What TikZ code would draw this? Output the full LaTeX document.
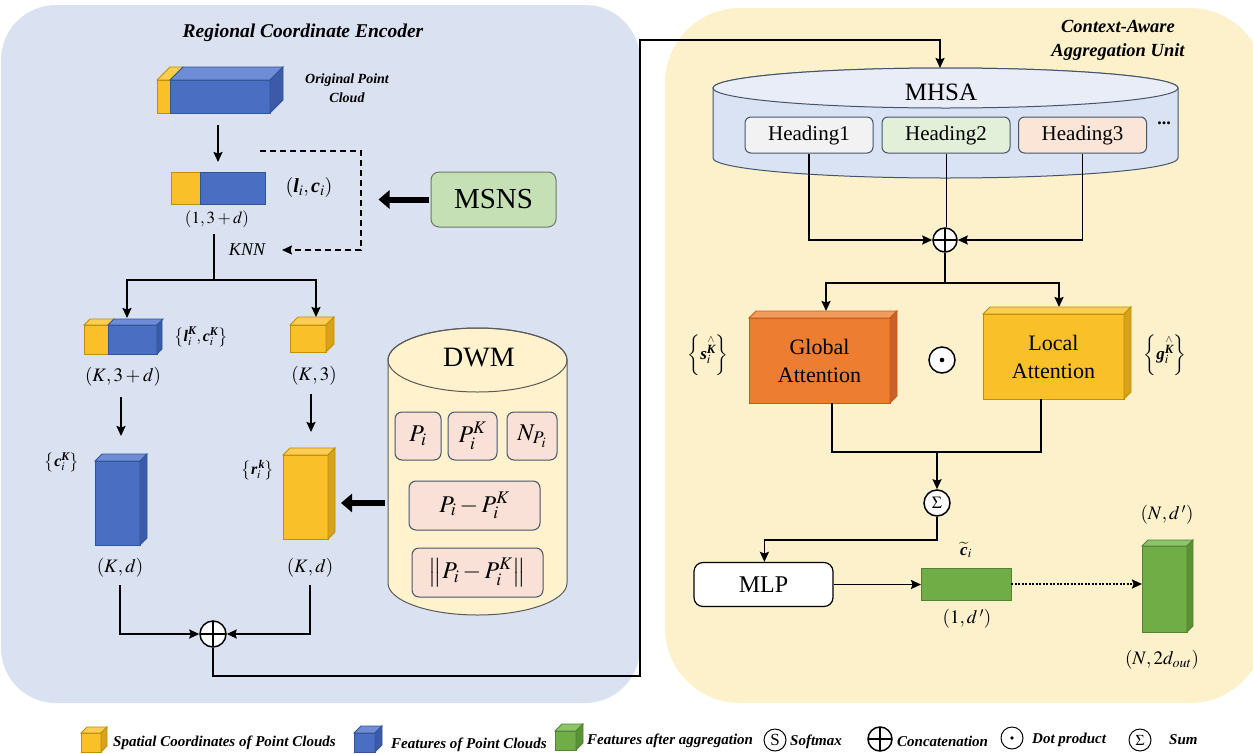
\documentclass[tikz,border=0pt]{standalone}
\usepackage{amsmath}
\usepackage{mathptmx}
\usepackage{fontspec}
\setmainfont{Liberation Serif}
\usetikzlibrary{arrows.meta,calc}

\definecolor{panelL}{HTML}{DAE1F0}
\definecolor{panelR}{HTML}{FDF1CC}
\definecolor{ylw}{HTML}{FAC02A}
\definecolor{ylwTop}{HTML}{FCCD55}
\definecolor{ylwSide}{HTML}{D9A21B}
\definecolor{ylwLine}{HTML}{BF9000}
\definecolor{blu}{HTML}{4A6EC2}
\definecolor{bluTop}{HTML}{6F8DD6}
\definecolor{bluSide}{HTML}{3C5AA8}
\definecolor{bluLine}{HTML}{2F5597}
\definecolor{grn}{HTML}{70AD47}
\definecolor{grnTop}{HTML}{8DC46A}
\definecolor{grnSide}{HTML}{5A9236}
\definecolor{grnLine}{HTML}{548235}
\definecolor{org}{HTML}{ED7D31}
\definecolor{orgTop}{HTML}{F29B5F}
\definecolor{orgSide}{HTML}{C8622A}
\definecolor{orgLine}{HTML}{C55A11}
\definecolor{msnsF}{HTML}{C5E0B4}
\definecolor{msnsL}{HTML}{6C7B66}
\definecolor{dwmF}{HTML}{FFF2CC}
\definecolor{dwmL}{HTML}{595959}
\definecolor{pinkF}{HTML}{F9E1D7}
\definecolor{boxL}{HTML}{44546A}
\definecolor{mhsaF}{HTML}{DAE3F3}
\definecolor{mhsaT}{HTML}{E8EDF7}
\definecolor{hOneF}{HTML}{F2F2F2}
\definecolor{hTwoF}{HTML}{E2F0D9}
\definecolor{hThreeF}{HTML}{FBE5D6}

\newcommand\fs[2]{\fontsize{#1}{#2}\selectfont}
\newcommand\mathbit[1]{\text{\bfseries\itshape #1}}
\newcommand\hatK{\overset{\scriptscriptstyle\wedge}{\mathbit{K}}}
% top and right faces of a block whose front face is the node #1
\newcommand\topface[4]{%
  \filldraw[fill=#3,draw=#4,line width=0.8pt] (#1.north west) -- ++(#2,-#2)
    -- ($(#1.north east)+(#2,-#2)$) -- (#1.north east) -- cycle;}
\newcommand\sideface[4]{%
  \filldraw[fill=#3,draw=#4,line width=0.8pt] (#1.north east) -- ++(#2,-#2)
    -- ($(#1.south east)+(#2,-#2)$) -- (#1.south east) -- cycle;}

\tikzset{
  face/.style={draw, line width=0.8pt, inner sep=0pt, outer sep=0pt, anchor=north west},
  yface/.style={face, fill=ylw, draw=ylwLine},
  bface/.style={face, fill=blu, draw=bluLine},
  gface/.style={face, fill=grn, draw=grnLine},
  oface/.style={face, fill=org, draw=orgLine},
  arr/.style={line width=1.8pt, -{Stealth[length=10pt,width=9pt,inset=1.5pt]}},
  ln/.style={line width=1.8pt},
  fatarr/.style={line width=6pt, -{Triangle[length=11pt,width=18pt]}},
  opc/.style={circle, draw, line width=1.5pt, fill=white, inner sep=0pt},
  plusop/.style={opc, path picture={\draw[line width=1.5pt]
      (path picture bounding box.north) -- (path picture bounding box.south)
      (path picture bounding box.west) -- (path picture bounding box.east);}},
  dbox/.style={draw=boxL, fill=pinkF, line width=1pt, rounded corners=7pt,
      inner sep=0pt, font=\fs{24}{28}},
  hbox/.style={draw=boxL, line width=1pt, rounded corners=6pt, minimum width=128pt,
      minimum height=36pt, inner sep=0pt, font=\fs{21}{24}},
  lbl/.style={inner sep=0pt},
  dimlbl/.style={inner sep=0pt, font=\fs{19}{22}},
  legtxt/.style={anchor=west, inner sep=0pt, font=\bfseries\itshape\fs{15}{18}},
}

\begin{document}
\begin{tikzpicture}[x=1pt,y=-1pt]
\useasboundingbox (0,0) rectangle (1253,753);
\clip (0,0) rectangle (1253,753);
\fill[white] (0,0) rectangle (1253,753);

% panels
\fill[panelL, rounded corners=55pt] (1,5) rectangle (640,703);
\fill[panelR, rounded corners=75pt] (665,8) rectangle (1265,703);

% ---------------- Regional Coordinate Encoder ----------------
\node[font=\bfseries\itshape\fs{19.5}{22}] (titleL) at (303,33) {Regional Coordinate Encoder};

% original point cloud
\node[yface, minimum width=13pt, minimum height=33pt] (ocY) at (157,80) {};
\node[bface, minimum width=100pt, minimum height=33pt] (ocB) at (170,80) {};
\topface{ocY}{13}{ylwTop}{ylwLine}
\topface{ocB}{13}{bluTop}{bluLine}
\sideface{ocB}{13}{bluSide}{bluLine}
\node[font=\bfseries\itshape\fs{14}{19}, align=center] (ocL) at (347,88) {Original Point\\Cloud};

% single point (1,3+d)
\node[yface, minimum width=29pt, minimum height=32pt] (flY) at (171,172) {};
\node[bface, minimum width=65pt, minimum height=32pt] (flB) at (200,172) {};
\coordinate (flTop) at ($(flY.north west)!0.5!(flB.north east)$);
\draw[arr, shorten <=12pt, shorten >=10pt] (flTop |- ocB.south) -- (flTop);
\node[lbl, font=\fs{20}{23}] (liciL) at (309,187) {$\left(\mathbit{l}_i,\mathbit{c}_i\right)$};
\node[lbl, font=\fs{17}{20}] (dimA) at (217,219) {$\left(1,3+d\right)$};

% KNN loop
\coordinate (knnA) at (260,151);
\coordinate (knnB) at (282,250);
\draw[line width=1.6pt, dash pattern=on 6pt off 4pt, -{Stealth[length=10pt,width=9pt,inset=1.5pt]}]
  (knnA) -- (361,151) -- (361,250) -- (knnB);
\node[lbl, font=\itshape\fs{18}{20}] (knn) at (247,250) {KNN};

% MSNS
\node[draw=msnsL, fill=msnsF, line width=1pt, rounded corners=8pt, minimum width=125pt,
  minimum height=55pt, font=\fs{29}{32}] (msns) at (493.5,199.5) {MSNS};
\draw[fatarr, shorten <=2pt] (msns.west) -- ++(-52,0);

% branch to neighbours
\coordinate (brTop) at (214,234);
\coordinate (brMid) at (214,280);
\draw[ln] (brTop) -- (brMid);

% neighbour block (K,3+d)
\node[yface, minimum width=24pt, minimum height=29pt] (kY) at (84,325) {};
\node[bface, minimum width=49pt, minimum height=29pt] (kB) at (108,325) {};
\topface{kY}{6}{ylwTop}{ylwLine}
\topface{kB}{6}{bluTop}{bluLine}
\sideface{kB}{5}{bluSide}{bluLine}
\node[lbl, font=\fs{16}{19}] (lcK) at (201,337) {$\left\{\mathbit{l}_i^{\mathbit{K}},\mathbit{c}_i^{\mathbit{K}}\right\}$};
\node[dimlbl] (dimB) at (123,377) {$\left(K,3+d\right)$};

% neighbour coordinates (K,3)
\node[yface, minimum width=36pt, minimum height=27pt] (kc) at (290,325) {};
\topface{kc}{8}{ylwTop}{ylwLine}
\sideface{kc}{8}{ylwSide}{ylwLine}
\node[dimlbl] (dimC) at (314,376) {$\left(K,3\right)$};

\draw[arr] (brMid) -| (127,318);
\draw[arr] (brMid) -| (316,317);

% feature and relative-position blocks
\node[bface, minimum width=45pt, minimum height=84pt] (cK) at (95,461) {};
\topface{cK}{7}{bluTop}{bluLine}
\sideface{cK}{7}{bluSide}{bluLine}
\node[yface, minimum width=45pt, minimum height=84pt] (rK) at (283,455) {};
\topface{rK}{7}{ylwTop}{ylwLine}
\sideface{rK}{7}{ylwSide}{ylwLine}
\node[lbl, font=\fs{16}{19}] (cKL) at (62,462) {$\left\{\mathbit{c}_i^{\mathbit{K}}\right\}$};
\node[lbl, font=\fs{16}{19}] (rKL) at (258,470) {$\left\{\mathbit{r}_i^{\,\mathbit{k}}\right\}$};
\node[dimlbl] (dimD) at (120,568) {$\left(K,d\right)$};
\node[dimlbl] (dimE) at (310,568) {$\left(K,d\right)$};

\draw[arr] (121,397) -- (121,436);
\draw[arr] (311,394) -- (311,432);

% concatenation
\node[plusop, minimum size=26pt] (catL) at (213,634) {};
\draw[arr] (120,585) |- (catL.west);
\draw[arr] (310,585) |- (catL.east);

% DWM cylinder
\filldraw[fill=dwmF, draw=dwmL, line width=1pt]
  (388,360) -- (388,583) arc[start angle=180, end angle=360, x radius=89.5pt, y radius=32pt]
  -- (567,360) arc[start angle=0, end angle=180, x radius=89.5pt, y radius=32pt] -- cycle;
\draw[dwmL, line width=1pt] (477.5,360) ellipse [x radius=89.5pt, y radius=32pt];
\node[font=\fs{28}{32}] (dwm) at (479,358) {DWM};
\node[dbox, minimum width=46pt, minimum height=48pt] (p1) at (418,436) {$P_i$};
\node[dbox, minimum width=49pt, minimum height=48pt] (p2) at (472.5,436) {$P_i^K$};
\node[dbox, minimum width=50pt, minimum height=48pt] (p3) at (532,436) {$N_{P_i}$};
\node[dbox, minimum width=131pt, minimum height=49pt] (p4) at (474.5,505.5) {$P_i-P_i^K$};
\node[dbox, minimum width=131pt, minimum height=49pt] (p5) at (477.5,572.5) {$\left\|P_i-P_i^K\right\|$};
\coordinate (dwmW) at (388,503);
\draw[fatarr, shorten <=3pt] (dwmW) -- (341,503);

% ---------------- Context-Aware Aggregation Unit ----------------
\node[font=\bfseries\itshape\fs{18.5}{24}, align=center] (titleR) at (1118,40) {Context-Aware\\Aggregation Unit};

% MHSA disc
\filldraw[fill=mhsaF, draw=boxL, line width=1pt]
  (713,88) -- (713,158) arc[start angle=180, end angle=360, x radius=232.5pt, y radius=20pt]
  -- (1178,88) arc[start angle=0, end angle=180, x radius=232.5pt, y radius=20pt] -- cycle;
\filldraw[fill=mhsaT, draw=boxL, line width=1pt] (945.5,88) ellipse [x radius=232.5pt, y radius=20pt];
\node[font=\fs{25}{28}] (mhsa) at (941,92) {MHSA};
\coordinate (mhsaTop) at (940,68);
\node[hbox, fill=hOneF] (h1) at (809,135) {Heading1};
\node[hbox, fill=hTwoF] (h2) at (946,135) {Heading2};
\node[hbox, fill=hThreeF] (h3) at (1082.5,135) {Heading3};
\node[font=\bfseries\fs{18}{20}] (hdots) at (1164,123) {...};

% encoder output to MHSA
\draw[arr] (catL.south) -- (213,676) -| (640,40) -| (mhsaTop);

% head outputs
\node[plusop, minimum size=24pt] (catR) at (945,240) {};
\draw[line width=0.7pt] (h2.south) -- (h2.south |- catR.north);
\draw[arr] (h1.south) |- (catR.west);
\draw[arr] (h3.south) |- (catR.east);
\coordinate (split) at (945,283);
\draw[ln] (catR.south) -- (split);
\draw[arr] (split) -| (826,311);
\draw[arr] (split) -| (1059,307);

% attention blocks
\node[oface, minimum width=141pt, minimum height=85pt, align=center, font=\fs{22}{28}] (gA) at (749,318) {Global\\Attention};
\topface{gA}{7}{orgTop}{orgLine}
\sideface{gA}{7}{orgSide}{orgLine}
\node[yface, minimum width=141pt, minimum height=85pt, align=center, font=\fs{22}{28}] (lA) at (983,314) {Local\\Attention};
\topface{lA}{7}{ylwTop}{ylwLine}
\sideface{lA}{7}{ylwSide}{ylwLine}
\node[opc, minimum size=26pt] (dot) at (942,360) {};
\fill (dot.center) circle (2.3pt);
\node[lbl, font=\fs{17}{20}] (sL) at (708,355) {$\left\{\mathbit{s}_i^{\hatK}\right\}$};
\node[lbl, font=\fs{17}{20}] (gL) at (1165,355) {$\left\{\mathbit{g}_i^{\hatK}\right\}$};

% sum
\node[opc, minimum size=26pt, font=\fs{17}{20}] (sum) at (937,503) {$\Sigma$};
\coordinate (merge) at (937,452);
\draw[ln] (832,403) |- (merge) -| (1041,399);
\draw[arr] (merge) -- (sum.north);

% MLP and outputs
\node[draw, line width=1.2pt, fill=white, rounded corners=9pt, minimum width=139pt,
  minimum height=44pt, font=\fs{24}{28}] (mlp) at (763.5,584.5) {MLP};
\draw[arr] (sum.south) -- ++(0,23) -| ($(mlp.north west)+(71,0)$);
\node[gface, minimum width=90pt, minimum height=32pt] (ct) at (921,568) {};
\draw[arr] (mlp.east) -- (mlp.east -| ct.west);
\node[lbl, font=\fs{17}{20}] (ctL) at (966,550) {$\widetilde{\mathbit{c}}_i$};
\node[dimlbl] (dimF) at (967,619) {$\left(1,d\,'\right)$};
\node[gface, minimum width=45pt, minimum height=86pt] (outG) at (1142,546) {};
\topface{outG}{6}{grnTop}{grnLine}
\sideface{outG}{6}{grnSide}{grnLine}
\draw[line width=2pt, dash pattern=on 2pt off 1.5pt, -{Stealth[length=10pt,width=9pt,inset=1.5pt]}]
  (ct.east) -- (ct.east -| outG.west);
\node[dimlbl] (dimG) at (1167,515) {$\left(N,d\,'\right)$};
\node[dimlbl] (dimH) at (1162,660) {$\left(N,2d_{out}\right)$};

% ---------------- legend ----------------
\node[yface, minimum width=20pt, minimum height=19pt] (lgY) at (81,733) {};
\topface{lgY}{6}{ylwTop}{ylwLine}
\sideface{lgY}{6}{ylwSide}{ylwLine}
\node[legtxt] (lgYt) at (113,743) {Spatial Coordinates of Point Clouds};
\node[bface, minimum width=21pt, minimum height=19pt] (lgB) at (354,733) {};
\topface{lgB}{7}{bluTop}{bluLine}
\sideface{lgB}{7}{bluSide}{bluLine}
\node[legtxt] (lgBt) at (391,745) {Features of Point Clouds};
\node[gface, minimum width=21pt, minimum height=19pt] (lgG) at (555,731) {};
\topface{lgG}{7}{grnTop}{grnLine}
\sideface{lgG}{7}{grnSide}{grnLine}
\node[legtxt] (lgGt) at (587,741) {Features after aggregation};
\node[circle, draw, line width=1pt, minimum size=22pt, inner sep=0pt, font=\fs{17}{20}] (lgS) at (775,740) {S};
\node[legtxt] (lgSt) at (790,742) {Softmax};
\node[plusop, minimum size=24pt, fill=none] (lgC) at (880,739) {};
\node[legtxt] (lgCt) at (897,741) {Concatenation};
\node[circle, draw, line width=1pt, minimum size=22pt, inner sep=0pt] (lgD) at (1012,738) {};
\fill (lgD.center) circle (1.8pt);
\node[legtxt] (lgDt) at (1032,740) {Dot product};
\node[circle, draw, line width=1pt, minimum size=22pt, inner sep=0pt, font=\fs{15}{18}] (lgZ) at (1140,740) {$\Sigma$};
\node[legtxt] (lgZt) at (1169,740) {Sum};
\end{tikzpicture}
\end{document}
